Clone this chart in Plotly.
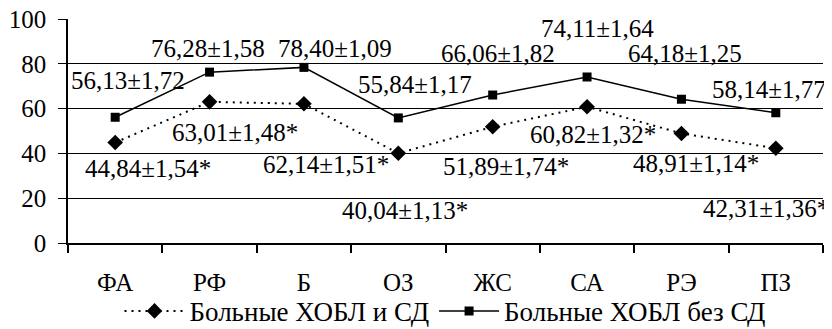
import plotly.graph_objects as go

categories = ["ФА", "РФ", "Б", "ОЗ", "ЖС", "СА", "РЭ", "ПЗ"]
with_sd = [44.84, 63.01, 62.14, 40.04, 51.89, 60.82, 48.91, 42.31]
with_sd_err = ["1,54", "1,48", "1,51", "1,13", "1,74", "1,32", "1,14", "1,36"]
without_sd = [56.13, 76.28, 78.40, 55.84, 66.06, 74.11, 64.18, 58.14]
without_sd_err = ["1,72", "1,58", "1,09", "1,17", "1,82", "1,64", "1,25", "1,77"]
y_ticks = [0, 20, 40, 60, 80, 100]

# label offsets (pixels) relative to points
wo_dx = [13, -2, 31, 17, 5, 10, 4, -7]
wo_dy = [-37, -24, -19, -33, -42, -48, -46, -23]
w_dx = [33, 25, 22, 7, 13, 6, 15, -10]
w_dy = [26, 31, 61, 57, 40, 28, 30, 60]

FONT = "Liberation Serif"
FS = 25

fig = go.Figure()
fig.add_trace(go.Scatter(
    x=categories, y=with_sd, mode="lines+markers", name="Больные ХОБЛ и СД",
    line=dict(color="black", width=2, dash="2px,5px"),
    marker=dict(symbol="diamond", size=12, color="black"),
))
fig.add_trace(go.Scatter(
    x=categories, y=without_sd, mode="lines+markers", name="Больные ХОБЛ без СД",
    line=dict(color="black", width=1.5),
    marker=dict(symbol="square", size=9, color="black"),
))

def fmt(v):
    return f"{v:.2f}".replace(".", ",")

ann = []
for i, c in enumerate(categories):
    ann.append(dict(x=c, y=without_sd[i], xref="x", yref="y",
                    text=f"{fmt(without_sd[i])}±{without_sd_err[i]}",
                    showarrow=False, xshift=wo_dx[i], yshift=-wo_dy[i],
                    font=dict(family=FONT, size=FS, color="black")))
    ann.append(dict(x=c, y=with_sd[i], xref="x", yref="y",
                    text=f"{fmt(with_sd[i])}±{with_sd_err[i]}*",
                    showarrow=False, xshift=w_dx[i], yshift=-w_dy[i],
                    font=dict(family=FONT, size=FS, color="black")))

# the page body adds an 8px margin, so the figure is sized 8px smaller
fig.update_layout(
    width=824, height=321,
    margin=dict(l=60, r=9, t=11, b=86, autoexpand=False),
    paper_bgcolor="white", plot_bgcolor="white",
    font=dict(family=FONT, size=FS, color="black"),
    showlegend=True,
    legend=dict(orientation="h", x=0.5, xanchor="center", yref="container",
                y=0.055, yanchor="middle", bgcolor="rgba(0,0,0,0)",
                font=dict(family=FONT, size=27, color="black"),
                itemwidth=60, tracegroupgap=0),
    annotations=ann,
    xaxis=dict(type="category", range=[-0.5, 7.5], showline=True, linecolor="black",
               linewidth=1.5, ticks="outside", tickson="boundaries", ticklen=8,
               tickcolor="black", tickwidth=1.5, showgrid=False, automargin=False,
               ticklabelstandoff=16, ticklabeloverflow="allow",
               tickfont=dict(family=FONT, size=FS, color="black")),
    yaxis=dict(range=[0, 100], tickvals=y_ticks, showgrid=True, gridcolor="black",
               gridwidth=1.2, showline=True, linecolor="black", linewidth=1.5,
               ticks="outside", ticklen=8, tickcolor="black", tickwidth=1.2,
               zeroline=False, ticklabelstandoff=7, automargin=False,
               ticklabeloverflow="allow",
               tickfont=dict(family=FONT, size=FS, color="black")),
)

fig.write_html("out.html")
